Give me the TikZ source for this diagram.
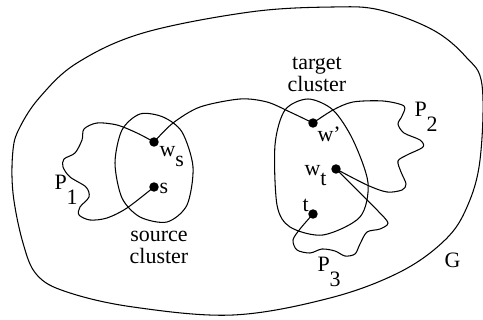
\documentclass[tikz,border=0pt]{standalone}
\usepackage{fontspec}
\setmainfont{Liberation Serif}
\usepackage{tikz}

\newcommand{\psub}[2]{#1\raisebox{-8pt}{#2}}
\newcommand{\wsub}[2]{#1\raisebox{-5.5pt}{#2}}

\begin{document}
\begin{tikzpicture}[
                    x=0.02cm, y=-0.02cm,
                    line width=0.6pt,
                    dot/.style={
                        circle,
                        fill=black,
                        inner sep=0pt,
                        minimum size=5.4pt
                    },
                    lbl/.style={
                        anchor=base west,
                        inner sep=0pt,
                        font=\fontsize{12.5}{13}\selectfont
                    },
                    clusterlbl/.style={
                        anchor=base,
                        inner sep=0pt,
                        align=center,
                        font=\fontsize{12.5}{13}\selectfont
                    }
                ]
                    \useasboundingbox (0,0) rectangle (483,320);

                    % Vertices
                    \node[dot] (ws) at (154,142) {};
                    \node[dot] (s) at (154,187) {};
                    \node[dot] (wp) at (313,123) {};
                    \node[dot] (wt) at (336,169) {};
                    \node[dot] (t) at (313,214) {};

                    % Labels
                    \node[lbl] (lws) at (159,157) {\wsub{w}{s}};
                    \node[lbl] (ls) at (159,194) {s};
                    \node[lbl] (lwp) at (317,142) {w'};
                    \node[lbl] (lwt) at (304,176) {\wsub{w}{t}};
                    \node[lbl] (lt) at (302,212) {t};
                    \node[lbl] (lp1) at (54,190) {\psub{P}{1}};
                    \node[lbl] (lp2) at (414,117) {\psub{P}{2}};
                    \node[lbl] (lp3) at (317,272) {\psub{P}{3}};
                    \node[lbl] (lg) at (444,268) {G};
                    \node[clusterlbl] (lsrc) at (159,264) {source\\cluster};
                    \node[clusterlbl] (ltgt) at (317,92) {target\\cluster};

                    % Graph G
                    \draw plot[smooth cycle, tension=0.6] coordinates {
                        (13,150) (20,127) (40,97) (77,63) (143,33) (250,12)
                        (333,7) (380,10) (433,30) (466,57) (482,85) (480,160)
                        (467,207) (445,240) (400,272) (330,298) (233,315)
                        (133,307) (67,292) (37,275) (23,243) (13,193)};

                    % Clusters
                    \draw plot[smooth cycle] coordinates {
                        (115,163) (122,130) (140,114) (163,117) (182,132)
                        (193,167) (187,205) (167,222) (140,217) (122,198)};
                    \draw plot[smooth cycle] coordinates {
                        (308,99) (333,110) (353,140) (368,183) (360,217)
                        (323,235) (290,227) (277,205) (275,145) (285,110)};

                    % Paths
                    \draw plot[smooth] coordinates {
                        (ws.center) (173,123) (200,107) (240,99) (267,102)
                        (290,112) (wp.center)};
                    \draw plot[smooth] coordinates {
                        (ws.center) (137,133) (117,125) (97,123) (84,129)
                        (82,140) (75,153) (64,159) (63,167) (70,177) (86,187)
                        (89,197) (80,207) (79,215) (90,220) (107,218)
                        (127,208) (s.center)};
                    \draw plot[smooth] coordinates {
                        (wp.center) (333,110) (353,102) (383,101) (404,106)
                        (402,116) (398,124) (404,133) (420,140) (423,147)
                        (407,155) (398,161) (401,172) (406,184) (402,190)
                        (387,192) (367,185) (wt.center)};
                    \draw plot[smooth] coordinates {
                        (wt.center) (357,190) (378,211) (388,223) (380,229)
                        (367,232) (360,244) (355,254) (345,256) (335,251)
                        (322,249) (310,253) (297,250) (293,240) (300,229)
                        (t.center)};
                \end{tikzpicture}
\end{document}
